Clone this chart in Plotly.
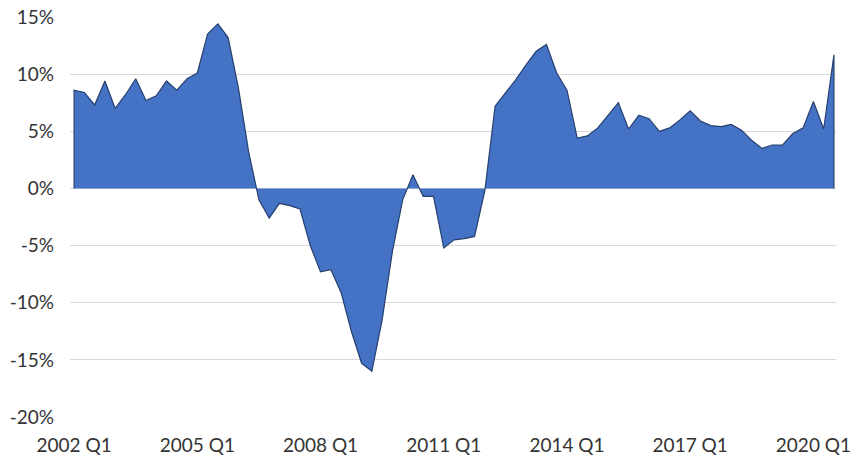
import plotly.graph_objects as go

years = list(range(2002, 2021))
quarters = [f"{y} Q{q}" for y in years for q in range(1, 5)][:75]  # 2002 Q1 .. 2020 Q3

growth = [
    8.6, 8.4, 7.3, 9.4, 7.0, 8.2, 9.6, 7.7, 8.1, 9.4,
    8.6, 9.6, 10.1, 13.5, 14.4, 13.2, 8.8, 3.2, -1.0, -2.6,
    -1.3, -1.5, -1.8, -5.0, -7.3, -7.1, -9.1, -12.5, -15.3, -16.0,
    -11.5, -5.5, -1.0, 1.2, -0.7, -0.7, -5.2, -4.5, -4.4, -4.2,
    -0.2, 7.2, 8.3, 9.5, 10.8, 12.0, 12.6, 10.1, 8.6, 4.4,
    4.6, 5.3, 6.4, 7.5, 5.2, 6.4, 6.1, 5.0, 5.3, 6.0,
    6.8, 5.9, 5.5, 5.4, 5.6, 5.1, 4.2, 3.5, 3.8, 3.8,
    4.8, 5.3, 7.6, 5.2, 11.7,
]

tick_labels = ["2002 Q1", "2005 Q1", "2008 Q1", "2011 Q1", "2014 Q1", "2017 Q1", "2020 Q1"]
y_ticks = [15, 10, 5, 0, -5, -10, -15, -20]

# closed polygon along the zero baseline so the outline wraps the area
xs = [quarters[0]] + quarters + [quarters[-1]]
ys = [0] + [v / 100 for v in growth] + [0]

fig = go.Figure()
fig.add_trace(go.Scatter(
    x=xs, y=ys, mode="lines", fill="toself",
    fillcolor="#4472C4",
    line=dict(color="#263f6e", width=1.2),
    hoverinfo="skip", showlegend=False,
))

font_family = "Lato, 'Open Sans', sans-serif"
fig.update_layout(
    width=860, height=457,
    margin=dict(l=70, r=24, t=17, b=40, autoexpand=False),
    paper_bgcolor="white", plot_bgcolor="white",
    font=dict(family=font_family, size=20, color="#333333"),
    xaxis=dict(
        type="category", automargin=False,
        categoryorder="array", categoryarray=quarters,
        range=[-0.4, 74.2],
        tickmode="array", tickvals=tick_labels, ticktext=tick_labels,
        showgrid=False, zeroline=False, showline=False, ticks="",
        ticklabelstandoff=15,
        tickfont=dict(size=19),
    ),
    yaxis=dict(
        automargin=False,
        range=[-0.20, 0.15],
        tickmode="array", tickvals=[v / 100 for v in y_ticks],
        ticktext=[f"{v}%" for v in y_ticks],
        showgrid=True, gridcolor="#d9d9d9", gridwidth=1,
        zeroline=True, zerolinecolor="#d9d9d9", zerolinewidth=1,
        showline=False, ticks="", ticklabelstandoff=15,
        tickfont=dict(size=19),
    ),
)

fig.write_html(
    "out.html",
    config={"displayModeBar": False},
    post_script="document.body.style.margin='0';document.body.style.overflow='hidden';",
)
